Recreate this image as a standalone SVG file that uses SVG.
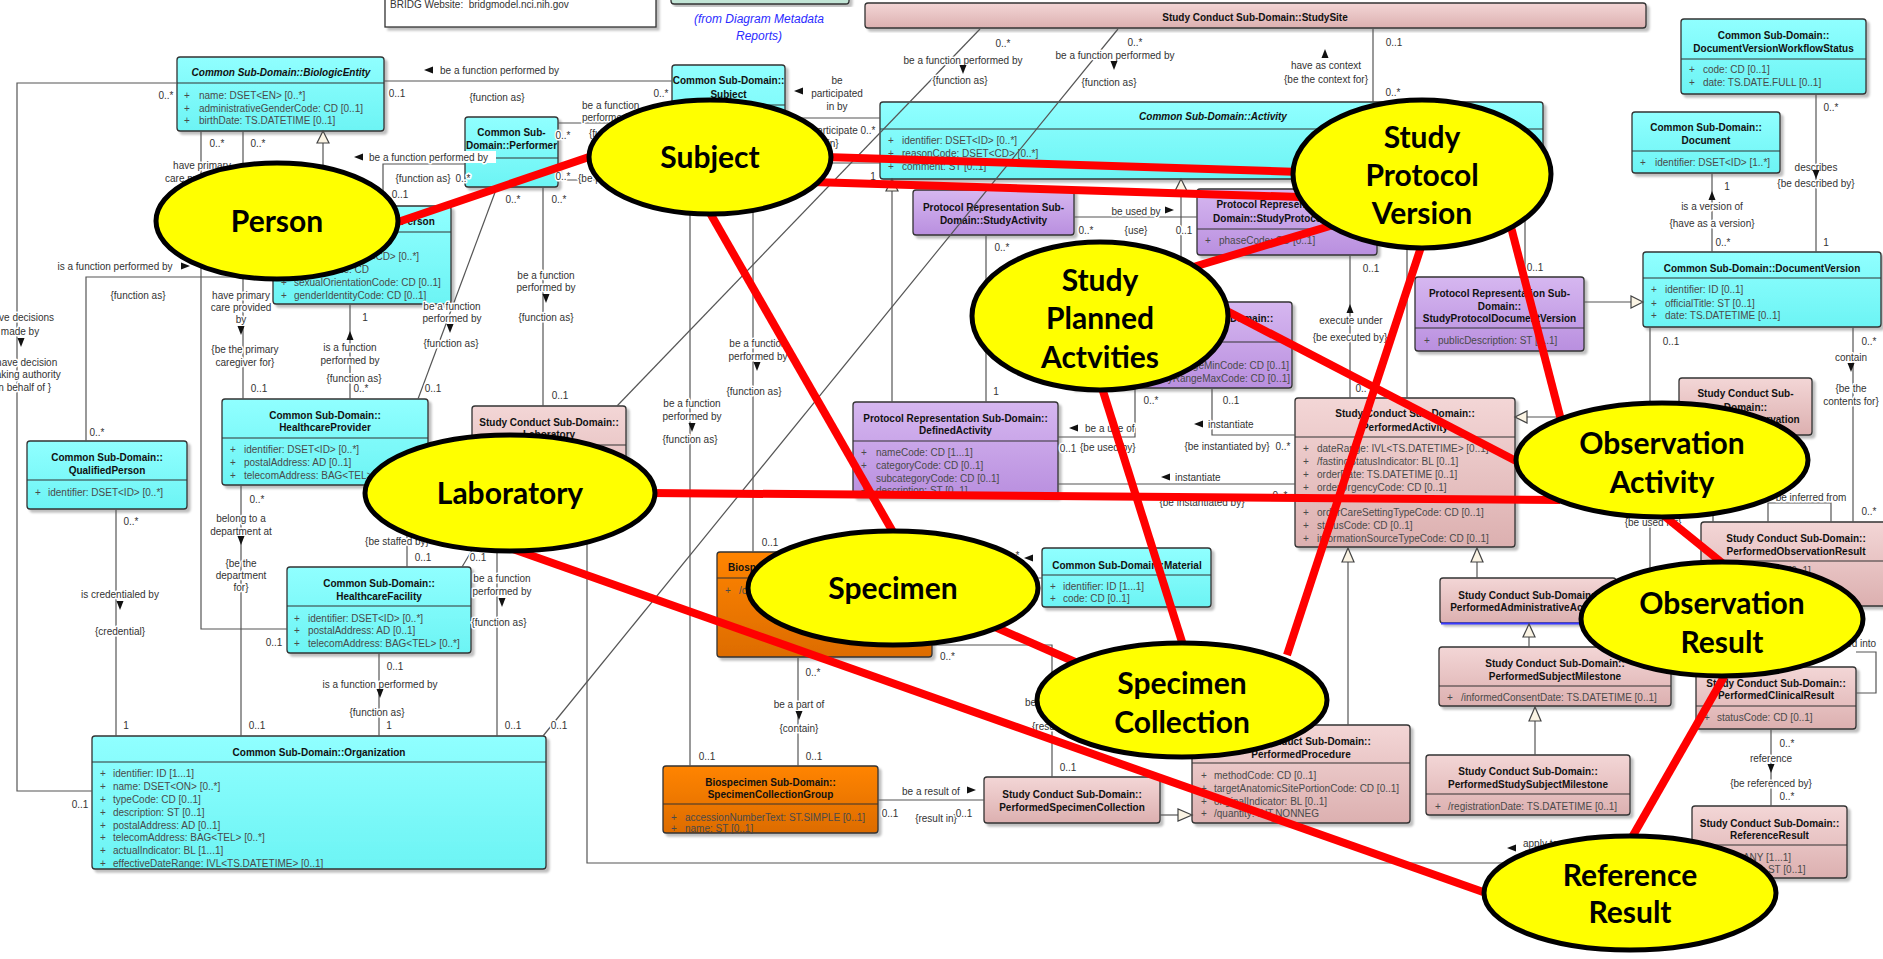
<svg xmlns="http://www.w3.org/2000/svg" width="1883" height="959" viewBox="0 0 1883 959">
<defs>
<linearGradient id="gc" x1="0" y1="0" x2="0" y2="1"><stop offset="0" stop-color="#90ffff"/><stop offset="1" stop-color="#6cf4f4"/></linearGradient>
<linearGradient id="gp" x1="0" y1="0" x2="0" y2="1"><stop offset="0" stop-color="#d6b7f0"/><stop offset="1" stop-color="#b98fdf"/></linearGradient>
<linearGradient id="gk" x1="0" y1="0" x2="0" y2="1"><stop offset="0" stop-color="#f3d6d6"/><stop offset="1" stop-color="#dcb0b0"/></linearGradient>
<linearGradient id="go" x1="0" y1="0" x2="0" y2="1"><stop offset="0" stop-color="#ff8400"/><stop offset="1" stop-color="#dd6c00"/></linearGradient>
<filter id="sh" x="-5%" y="-10%" width="115%" height="130%"><feDropShadow dx="3" dy="3" stdDeviation="1.2" flood-color="#000" flood-opacity="0.25"/></filter>
<path id="aD" d="M-3.5,-5 L3.5,-5 L0,4 Z"/>
<path id="aU" d="M-3.5,5 L3.5,5 L0,-4 Z"/>
<path id="aL" d="M5,-3.5 L5,3.5 L-4,0 Z"/>
<path id="aR" d="M-5,-3.5 L-5,3.5 L4,0 Z"/>
</defs>
<style>
.bx{stroke:#333;stroke-width:1.3;filter:url(#sh)}
.c{fill:url(#gc)}.p{fill:url(#gp)}.k{fill:url(#gk)}.o{fill:url(#go)}
.hd{stroke:#333;stroke-width:1.2}
text{font-family:"Liberation Sans",Arial,sans-serif;font-size:10px}
.t{font-weight:bold;text-anchor:middle;fill:#111}
.ti{font-weight:bold;font-style:italic;text-anchor:middle;fill:#111}
.a{fill:#4a4a4a}
.ln{fill:none;stroke:#555;stroke-width:1.2}
.l{fill:#333;text-anchor:middle;paint-order:stroke;stroke:#fff;stroke-width:3px;stroke-linejoin:round}
.ls{fill:#333;paint-order:stroke;stroke:#fff;stroke-width:3px;stroke-linejoin:round}
.ar{fill:#111}
.gen{fill:#fbf4e4;stroke:#444;stroke-width:1.2}
.red{stroke:#ff0000;stroke-width:8;fill:none}
.el{fill:#ffff00;stroke:#000;stroke-width:5}
.et{font-family:Lato,"Open Sans",sans-serif;font-weight:bold;font-size:30px;text-anchor:middle;fill:#000}
.meta{font-size:12px;font-style:italic;fill:#2b2bff;text-anchor:middle}
</style>
<rect width="1883" height="959" fill="#fff"/>

<g id="nodes">
<g id="n-bridg-website"><rect x="385" y="-10" width="271" height="37" fill="#fff" stroke="#333" stroke-width="1.3" filter="url(#sh)"/><text x="390" y="8" fill="#333">BRIDG Website:&#160; bridgmodel.nci.nih.gov</text></g>
<g id="n-metadata"><rect x="671" y="-10" width="178" height="14" rx="3" fill="#c2e5d6" stroke="#333" stroke-width="1.3" filter="url(#sh)"/><text class="meta" x="759" y="23">(from Diagram Metadata</text><text class="meta" x="759" y="40">Reports)</text></g>

<g id="n-biologic-entity"><rect class="bx c" x="177" y="57" width="207" height="74" rx="3"/><line class="hd" x1="177" y1="83" x2="384" y2="83"/>
<text class="ti" x="281" y="75.5">Common Sub-Domain::BiologicEntity</text>
<text class="a" y="98.5"><tspan x="184">+</tspan><tspan x="199">name: DSET&lt;EN&gt; [0..*]</tspan></text>
<text class="a" y="111.5"><tspan x="184">+</tspan><tspan x="199">administrativeGenderCode: CD [0..1]</tspan></text>
<text class="a" y="123.5"><tspan x="184">+</tspan><tspan x="199">birthDate: TS.DATETIME [0..1]</tspan></text></g>

<g id="n-person"><rect class="bx c" x="273" y="206" width="178" height="98" rx="3"/><line class="hd" x1="273" y1="232" x2="451" y2="232"/>
<text class="t" x="362" y="225">Common Sub-Domain::Person</text>
<text class="a" y="259.5"><tspan x="281">+</tspan><tspan x="294">raceCode: DSET&lt;CD&gt; [0..*]</tspan></text>
<text class="a" y="272.5"><tspan x="281">+</tspan><tspan x="294">genderCode: CD</tspan></text>
<text class="a" y="285.5"><tspan x="281">+</tspan><tspan x="294">sexualOrientationCode: CD [0..1]</tspan></text>
<text class="a" y="298.5"><tspan x="281">+</tspan><tspan x="294">genderIdentityCode: CD [0..1]</tspan></text></g>

<g id="n-performer"><rect class="bx c" x="465" y="117" width="93" height="70" rx="3"/><line class="hd" x1="465" y1="158" x2="558" y2="158"/>
<text class="t" x="511.5" y="135.5">Common Sub-</text><text class="t" x="511.5" y="148.5">Domain::Performer</text></g>

<g id="n-subject"><rect class="bx c" x="672" y="65" width="113" height="110" rx="3"/><line class="hd" x1="672" y1="105" x2="785" y2="105"/>
<text class="t" x="728.5" y="83.5">Common Sub-Domain::</text><text class="t" x="728.5" y="97.5">Subject</text></g>

<g id="n-qualified-person"><rect class="bx c" x="27" y="441" width="160" height="68" rx="3"/><line class="hd" x1="27" y1="480" x2="187" y2="480"/>
<text class="t" x="107" y="460.5">Common Sub-Domain::</text><text class="t" x="107" y="473.5">QualifiedPerson</text>
<text class="a" y="495.5"><tspan x="35">+</tspan><tspan x="48">identifier: DSET&lt;ID&gt; [0..*]</tspan></text></g>

<g id="n-healthcare-provider"><rect class="bx c" x="222" y="399" width="206" height="86" rx="3"/><line class="hd" x1="222" y1="438" x2="428" y2="438"/>
<text class="t" x="325" y="418.5">Common Sub-Domain::</text><text class="t" x="325" y="430.5">HealthcareProvider</text>
<text class="a" y="452.5"><tspan x="230">+</tspan><tspan x="244">identifier: DSET&lt;ID&gt; [0..*]</tspan></text>
<text class="a" y="465.5"><tspan x="230">+</tspan><tspan x="244">postalAddress: AD [0..1]</tspan></text>
<text class="a" y="478.5"><tspan x="230">+</tspan><tspan x="244">telecomAddress: BAG&lt;TEL&gt; [0..*]</tspan></text></g>

<g id="n-healthcare-facility"><rect class="bx c" x="287" y="567" width="184" height="86" rx="3"/><line class="hd" x1="287" y1="606" x2="471" y2="606"/>
<text class="t" x="379" y="586.5">Common Sub-Domain::</text><text class="t" x="379" y="599.5">HealthcareFacility</text>
<text class="a" y="621.5"><tspan x="294">+</tspan><tspan x="308">identifier: DSET&lt;ID&gt; [0..*]</tspan></text>
<text class="a" y="633.5"><tspan x="294">+</tspan><tspan x="308">postalAddress: AD [0..1]</tspan></text>
<text class="a" y="646.5"><tspan x="294">+</tspan><tspan x="308">telecomAddress: BAG&lt;TEL&gt; [0..*]</tspan></text></g>

<g id="n-organization"><rect class="bx c" x="92" y="736" width="454" height="133" rx="3"/><line class="hd" x1="92" y1="762" x2="546" y2="762"/>
<text class="t" x="319" y="755.5">Common Sub-Domain::Organization</text>
<text class="a" y="776.5"><tspan x="100">+</tspan><tspan x="113">identifier: ID [1...1]</tspan></text>
<text class="a" y="789.5"><tspan x="100">+</tspan><tspan x="113">name: DSET&lt;ON&gt; [0..*]</tspan></text>
<text class="a" y="802.5"><tspan x="100">+</tspan><tspan x="113">typeCode: CD [0..1]</tspan></text>
<text class="a" y="815.5"><tspan x="100">+</tspan><tspan x="113">description: ST [0..1]</tspan></text>
<text class="a" y="828.5"><tspan x="100">+</tspan><tspan x="113">postalAddress: AD [0..1]</tspan></text>
<text class="a" y="840.5"><tspan x="100">+</tspan><tspan x="113">telecomAddress: BAG&lt;TEL&gt; [0..*]</tspan></text>
<text class="a" y="853.5"><tspan x="100">+</tspan><tspan x="113">actualIndicator: BL [1...1]</tspan></text>
<text class="a" y="866.5"><tspan x="100">+</tspan><tspan x="113">effectiveDateRange: IVL&lt;TS.DATETIME&gt; [0..1]</tspan></text></g>

<g id="n-laboratory"><rect class="bx k" x="472" y="406" width="154" height="114" rx="3"/><line class="hd" x1="472" y1="445" x2="626" y2="445"/>
<text class="t" x="549" y="425.5">Study Conduct Sub-Domain::</text><text class="t" x="549" y="437.5">Laboratory</text></g>

<g id="n-study-site"><rect class="bx k" x="865" y="3" width="781" height="25" rx="3"/>
<text class="t" x="1255" y="20.5">Study Conduct Sub-Domain::StudySite</text></g>

<g id="n-activity"><rect class="bx c" x="880" y="102" width="663" height="77" rx="3"/><line class="hd" x1="880" y1="129" x2="1543" y2="129"/>
<text class="ti" x="1213" y="119.5">Common Sub-Domain::Activity</text>
<text class="a" y="143.5"><tspan x="888">+</tspan><tspan x="902">identifier: DSET&lt;ID&gt; [0..*]</tspan></text>
<text class="a" y="156.5"><tspan x="888">+</tspan><tspan x="902">reasonCode: DSET&lt;CD&gt; [0..*]</tspan></text>
<text class="a" y="169.5"><tspan x="888">+</tspan><tspan x="902">comment: ST [0..1]</tspan></text></g>

<g id="n-study-activity"><rect class="bx p" x="913" y="190" width="161" height="45" rx="3"/>
<text class="t" x="993.5" y="210.5">Protocol Representation Sub-</text><text class="t" x="993.5" y="223.5">Domain::StudyActivity</text></g>

<g id="n-study-protocol-version"><rect class="bx p" x="1197" y="189" width="180" height="66" rx="3"/><line class="hd" x1="1197" y1="229" x2="1377" y2="229"/>
<text class="t" x="1287" y="207.5">Protocol Representation Sub-</text><text class="t" x="1287" y="221.5">Domain::StudyProtocolVersion</text>
<text class="a" y="243.5"><tspan x="1205">+</tspan><tspan x="1219">phaseCode: CD [0..1]</tspan></text></g>

<g id="n-planned-activity"><rect class="bx p" x="1070" y="302" width="222" height="86" rx="3"/><line class="hd" x1="1070" y1="342" x2="1292" y2="342"/>
<text class="t" x="1181" y="321.5">Protocol Representation Sub-Domain::</text><text class="t" x="1181" y="334.5">PlannedActivity</text>
<text class="a" x="1289" y="368.5" text-anchor="end">studyDayRangeMinCode: CD [0..1]</text>
<text class="a" x="1290" y="381.5" text-anchor="end">studyDayRangeMaxCode: CD [0..1]</text></g>

<g id="n-defined-activity"><rect class="bx p" x="853" y="402" width="205" height="95" rx="3"/><line class="hd" x1="853" y1="441" x2="1058" y2="441"/>
<text class="t" x="955.5" y="421.5">Protocol Representation Sub-Domain::</text><text class="t" x="955.5" y="433.5">DefinedActivity</text>
<text class="a" y="455.5"><tspan x="861">+</tspan><tspan x="876">nameCode: CD [1...1]</tspan></text>
<text class="a" y="468.5"><tspan x="861">+</tspan><tspan x="876">categoryCode: CD [0..1]</tspan></text>
<text class="a" y="481.5"><tspan x="861">+</tspan><tspan x="876">subcategoryCode: CD [0..1]</tspan></text>
<text class="a" y="493.5"><tspan x="861">+</tspan><tspan x="876">description: ST [0..1]</tspan></text></g>

<g id="n-performed-activity"><rect class="bx k" x="1295" y="398" width="220" height="149" rx="3"/><line class="hd" x1="1295" y1="437" x2="1515" y2="437"/>
<text class="t" x="1405" y="416.5">Study Conduct Sub-Domain::</text><text class="t" x="1405" y="430.5">PerformedActivity</text>
<text class="a" y="451.5"><tspan x="1303">+</tspan><tspan x="1317">dateRange: IVL&lt;TS.DATETIME&gt; [0..1]</tspan></text>
<text class="a" y="464.5"><tspan x="1303">+</tspan><tspan x="1317">/fastingStatusIndicator: BL [0..1]</tspan></text>
<text class="a" y="477.5"><tspan x="1303">+</tspan><tspan x="1317">orderDate: TS.DATETIME [0..1]</tspan></text>
<text class="a" y="490.5"><tspan x="1303">+</tspan><tspan x="1317">orderUrgencyCode: CD [0..1]</tspan></text>
<text class="a" y="515.5"><tspan x="1303">+</tspan><tspan x="1317">orderCareSettingTypeCode: CD [0..1]</tspan></text>
<text class="a" y="528.5"><tspan x="1303">+</tspan><tspan x="1317">statusCode: CD [0..1]</tspan></text>
<text class="a" y="541.5"><tspan x="1303">+</tspan><tspan x="1317">informationSourceTypeCode: CD [0..1]</tspan></text></g>

<g id="n-material"><rect class="bx c" x="1042" y="548" width="169" height="59" rx="3"/><line class="hd" x1="1042" y1="575" x2="1211" y2="575"/>
<text class="t" x="1127" y="568.5">Common Sub-Domain::Material</text>
<text class="a" y="589.5"><tspan x="1050">+</tspan><tspan x="1063">identifier: ID [1...1]</tspan></text>
<text class="a" y="601.5"><tspan x="1050">+</tspan><tspan x="1063">code: CD [0..1]</tspan></text></g>

<g id="n-biospecimen"><rect class="bx o" x="717" y="552" width="215" height="105" rx="3"/><line class="hd" x1="717" y1="578" x2="932" y2="578"/>
<text class="t" x="824.5" y="570.5">Biospecimen Sub-Domain::Biospecimen</text>
<text class="a" y="593.5" fill="#5a3000"><tspan x="725">+</tspan><tspan x="739">/currentQuantity: PQ [0..1]</tspan></text></g>

<g id="n-specimen-collection-group"><rect class="bx o" x="663" y="766" width="215" height="67" rx="3"/><line class="hd" x1="663" y1="804" x2="878" y2="804"/>
<text class="t" x="770.5" y="785.5">Biospecimen Sub-Domain::</text><text class="t" x="770.5" y="797.5">SpecimenCollectionGroup</text>
<text class="a" y="820.5"><tspan x="671">+</tspan><tspan x="685">accessionNumberText: ST.SIMPLE [0..1]</tspan></text>
<text class="a" y="832"><tspan x="671">+</tspan><tspan x="685">name: ST [0..1]</tspan></text></g>

<g id="n-performed-specimen-collection"><rect class="bx k" x="984" y="777" width="176" height="46" rx="3"/>
<text class="t" x="1072" y="797.5">Study Conduct Sub-Domain::</text><text class="t" x="1072" y="810.5">PerformedSpecimenCollection</text></g>

<g id="n-performed-procedure"><rect class="bx k" x="1192" y="725" width="218" height="98" rx="3"/><line class="hd" x1="1192" y1="763" x2="1410" y2="763"/>
<text class="t" x="1301" y="744.5">Study Conduct Sub-Domain::</text><text class="t" x="1301" y="757.5">PerformedProcedure</text>
<text class="a" y="778.5"><tspan x="1201">+</tspan><tspan x="1214">methodCode: CD [0..1]</tspan></text>
<text class="a" y="791.5"><tspan x="1201">+</tspan><tspan x="1214">targetAnatomicSitePortionCode: CD [0..1]</tspan></text>
<text class="a" y="804.5"><tspan x="1201">+</tspan><tspan x="1214">originalIndicator: BL [0..1]</tspan></text>
<text class="a" y="816.5"><tspan x="1201">+</tspan><tspan x="1214">/quantity: INT.NONNEG</tspan></text></g>

<g id="n-dv-workflow-status"><rect class="bx c" x="1681" y="19" width="185" height="75" rx="3"/><line class="hd" x1="1681" y1="59" x2="1866" y2="59"/>
<text class="t" x="1773.5" y="38.5">Common Sub-Domain::</text><text class="t" x="1773.5" y="51.5">DocumentVersionWorkflowStatus</text>
<text class="a" y="72.5"><tspan x="1689">+</tspan><tspan x="1703">code: CD [0..1]</tspan></text>
<text class="a" y="85.5"><tspan x="1689">+</tspan><tspan x="1703">date: TS.DATE.FULL [0..1]</tspan></text></g>

<g id="n-document"><rect class="bx c" x="1632" y="112" width="148" height="61" rx="3"/><line class="hd" x1="1632" y1="151" x2="1780" y2="151"/>
<text class="t" x="1706" y="130.5">Common Sub-Domain::</text><text class="t" x="1706" y="143.5">Document</text>
<text class="a" y="165.5"><tspan x="1640">+</tspan><tspan x="1655">identifier: DSET&lt;ID&gt; [1..*]</tspan></text></g>

<g id="n-document-version"><rect class="bx c" x="1643" y="252" width="238" height="75" rx="3"/><line class="hd" x1="1643" y1="278" x2="1881" y2="278"/>
<text class="t" x="1762" y="271.5">Common Sub-Domain::DocumentVersion</text>
<text class="a" y="292.5"><tspan x="1651">+</tspan><tspan x="1665">identifier: ID [0..1]</tspan></text>
<text class="a" y="306.5"><tspan x="1651">+</tspan><tspan x="1665">officialTitle: ST [0..1]</tspan></text>
<text class="a" y="318.5"><tspan x="1651">+</tspan><tspan x="1665">date: TS.DATETIME [0..1]</tspan></text></g>

<g id="n-study-protocol-document-version"><rect class="bx p" x="1415" y="277" width="169" height="74" rx="3"/><line class="hd" x1="1415" y1="328" x2="1584" y2="328"/>
<text class="t" x="1499.5" y="296.5">Protocol Representation Sub-</text><text class="t" x="1499.5" y="309.5">Domain::</text><text class="t" x="1499.5" y="321.5">StudyProtocolDocumentVersion</text>
<text class="a" y="343.5"><tspan x="1424">+</tspan><tspan x="1438">publicDescription: ST [0..1]</tspan></text></g>

<g id="n-performed-observation"><rect class="bx k" x="1679" y="378" width="133" height="57" rx="3"/>
<text class="t" x="1745.5" y="396.5">Study Conduct Sub-</text><text class="t" x="1745.5" y="410.5">Domain::</text><text class="t" x="1745.5" y="422.5">PerformedObservation</text></g>

<g id="n-performed-observation-result"><rect class="bx k" x="1701" y="522" width="190" height="84" rx="3"/><line class="hd" x1="1701" y1="561" x2="1891" y2="561"/>
<text class="t" x="1796" y="541.5">Study Conduct Sub-Domain::</text><text class="t" x="1796" y="554.5">PerformedObservationResult</text>
<text class="a" y="573.5"><tspan x="1709">+</tspan><tspan x="1723">typeCode: CD [0..1]</tspan></text>
<text class="a" y="586.5"><tspan x="1709">+</tspan><tspan x="1723">value: ANY [0..1]</tspan></text></g>

<g id="n-performed-administrative-activity"><rect class="bx k" x="1440" y="578" width="176" height="45" rx="3"/><line x1="1441" y1="623.5" x2="1615" y2="623.5" stroke="#3a3aff" stroke-width="2"/>
<text class="t" x="1528" y="598.5">Study Conduct Sub-Domain::</text><text class="t" x="1528" y="610.5">PerformedAdministrativeActivity</text></g>

<g id="n-performed-subject-milestone"><rect class="bx k" x="1439" y="647" width="232" height="59" rx="3"/><line class="hd" x1="1439" y1="686" x2="1671" y2="686"/>
<text class="t" x="1555" y="666.5">Study Conduct Sub-Domain::</text><text class="t" x="1555" y="679.5">PerformedSubjectMilestone</text>
<text class="a" y="700.5"><tspan x="1447">+</tspan><tspan x="1461">/informedConsentDate: TS.DATETIME [0..1]</tspan></text></g>

<g id="n-performed-study-subject-milestone"><rect class="bx k" x="1426" y="755" width="204" height="60" rx="3"/><line class="hd" x1="1426" y1="794" x2="1630" y2="794"/>
<text class="t" x="1528" y="774.5">Study Conduct Sub-Domain::</text><text class="t" x="1528" y="787.5">PerformedStudySubjectMilestone</text>
<text class="a" y="809.5"><tspan x="1435">+</tspan><tspan x="1448">/registrationDate: TS.DATETIME [0..1]</tspan></text></g>

<g id="n-performed-clinical-result"><rect class="bx k" x="1696" y="667" width="160" height="62" rx="3"/><line class="hd" x1="1696" y1="706" x2="1856" y2="706"/>
<text class="t" x="1776" y="686.5">Study Conduct Sub-Domain::</text><text class="t" x="1776" y="698.5">PerformedClinicalResult</text>
<text class="a" y="720.5"><tspan x="1704">+</tspan><tspan x="1717">statusCode: CD [0..1]</tspan></text></g>

<g id="n-reference-result"><rect class="bx k" x="1692" y="806" width="155" height="72" rx="3"/><line class="hd" x1="1692" y1="845" x2="1847" y2="845"/>
<text class="t" x="1769.5" y="826.5">Study Conduct Sub-Domain::</text><text class="t" x="1769.5" y="838.5">ReferenceResult</text>
<text class="a" y="860.5"><tspan x="1700">+</tspan><tspan x="1714">value: ANY [1...1]</tspan></text>
<text class="a" y="872.5"><tspan x="1700">+</tspan><tspan x="1714">description: ST [0..1]</tspan></text></g>
</g>

<g id="connectors">
<path class="ln" d="M177,83 H17 V791 H92"/>
<path class="ln" d="M384,81 H672"/>
<path class="ln" d="M201,131 V629 H287"/>
<path class="ln" d="M243,131 V399"/>
<path class="ln" d="M323,206 V143"/>
<polygon class="gen" points="323,131 317,143 329,143"/>
<path class="ln" d="M273,277 H86 V441"/>
<path class="ln" d="M383,206 V164 H465"/>
<path class="ln" d="M350,304 V399"/>
<path class="ln" d="M497,187 L418,399"/>
<path class="ln" d="M543,187 V406"/>
<path class="ln" d="M558,123 H672"/>
<path class="ln" d="M558,180 H672"/>
<path class="ln" d="M785,118 H880"/>
<path class="ln" d="M785,163 H880"/>
<path class="ln" d="M690,175 V766"/>
<path class="ln" d="M753,175 V552"/>
<path class="ln" d="M980,29 L617,406" stroke-width="1"/>
<path class="ln" d="M1118,29 L543,736" stroke-width="1"/>
<path class="ln" d="M1373,28 V102"/>
<path class="ln" d="M1074,217 H1197"/>
<path class="ln" d="M1181,191 V302"/>
<polygon class="gen" points="1181,179 1175,191 1187,191"/>
<path class="ln" d="M892,191 V402"/>
<polygon class="gen" points="892,179 886,191 898,191"/>
<path class="ln" d="M986,235 V402"/>
<path class="ln" d="M1058,437 H1135 V388"/>
<path class="ln" d="M1212,388 V435 H1295"/>
<path class="ln" d="M1058,484 H1295"/>
<path class="ln" d="M1350,255 V398"/>
<path class="ln" d="M1407,179 V398"/>
<path class="ln" d="M1525,179 V277"/>
<path class="ln" d="M1584,302 H1631"/>
<polygon class="gen" points="1643,302 1631,296 1631,308"/>
<path class="ln" d="M1712,173 V252"/>
<path class="ln" d="M1816,94 V252"/>
<path class="ln" d="M1650,327 V570 H1701"/>
<path class="ln" d="M1853,327 V522"/>
<path class="ln" d="M1713,435 V522"/>
<path class="ln" d="M1768,522 V503 H1831 V522"/>
<path class="ln" d="M1679,417 H1527"/>
<polygon class="gen" points="1515,417 1527,411 1527,423"/>
<path class="ln" d="M1477,578 V562"/>
<polygon class="gen" points="1477,548 1471,562 1483,562"/>
<path class="ln" d="M1529,647 V637"/>
<polygon class="gen" points="1529,624 1523,637 1535,637"/>
<path class="ln" d="M1535,755 V721"/>
<polygon class="gen" points="1535,707 1529,721 1541,721"/>
<path class="ln" d="M1348,725 V562"/>
<polygon class="gen" points="1348,548 1342,562 1354,562"/>
<path class="ln" d="M1160,815 H1178"/>
<polygon class="gen" points="1192,815 1178,809 1178,821"/>
<path class="ln" d="M878,800 H984"/>
<path class="ln" d="M798,657 V766"/>
<path class="ln" d="M932,645 H1052 V777"/>
<path class="ln" d="M932,578 H1042"/>
<path class="ln" d="M587,520 V863 H1692"/>
<path class="ln" d="M379,653 V736"/>
<path class="ln" d="M241,485 V736"/>
<path class="ln" d="M407,485 V567"/>
<path class="ln" d="M462,567 L490,520"/>
<path class="ln" d="M497,520 V736"/>
<path class="ln" d="M116,509 V736"/>
<path class="ln" d="M1771,729 V806"/>
<path class="ln" d="M1856,652 H1876 V693 H1856"/>

<text class="l" x="21" y="321">have decisions</text>
<text class="l" x="20" y="335">made by</text>
<use class="ar" href="#aD" x="21" y="343"/>
<text class="l" x="25" y="366">{have decision</text>
<text class="l" x="24" y="378">making authority</text>
<text class="l" x="22" y="391">on behalf of }</text>
<text class="l" x="166" y="98.5">0..*</text>
<text class="l" x="80" y="807.5">0..1</text>

<use class="ar" href="#aL" x="428" y="70"/>
<text class="ls" x="440" y="73.5">be a function performed by</text>
<text class="l" x="397" y="96.5">0..1</text>
<text class="l" x="497" y="100.5">{function as}</text>
<text class="l" x="661" y="96.5">0..*</text>

<text class="l" x="217" y="146.5">0..*</text>
<text class="l" x="202" y="168.5">have primary</text>
<text class="l" x="202" y="181.5">care provided by</text>
<text class="l" x="274" y="645.5">0..1</text>

<text class="l" x="258" y="146.5">0..*</text>
<text class="l" x="241" y="298.5">have primary</text>
<text class="l" x="241" y="310.5">care provided</text>
<text class="l" x="241" y="322.5">by</text>
<use class="ar" href="#aD" x="241" y="331"/>
<text class="l" x="245" y="352.5">{be the primary</text>
<text class="l" x="245" y="365.5">caregiver for}</text>
<text class="l" x="259" y="391.5">0..1</text>

<text class="l" x="115" y="269.5">is a function performed by</text>
<use class="ar" href="#aR" x="186" y="266"/>
<text class="l" x="138" y="298.5">{function as}</text>
<text class="l" x="97" y="435.5">0..*</text>

<use class="ar" href="#aL" x="358" y="157"/>
<rect x="366" y="151" width="130" height="12" fill="#fff"/>
<text class="ls" x="369" y="160.5">be a function performed by</text>
<text class="l" x="423" y="181.5">{function as}</text>
<text class="l" x="463" y="181.5">0..*</text>
<text class="l" x="400" y="197.5">0..1</text>

<text class="l" x="365" y="320.5">1</text>
<use class="ar" href="#aU" x="350" y="335"/>
<text class="l" x="350" y="350.5">is a function</text>
<text class="l" x="350" y="363.5">performed by</text>
<text class="l" x="354" y="381.5">{function as}</text>
<text class="l" x="361" y="391.5">0..*</text>

<text class="l" x="513" y="202.5">0..*</text>
<text class="l" x="452" y="309.5">be a function</text>
<text class="l" x="452" y="321.5">performed by</text>
<use class="ar" href="#aD" x="450" y="329"/>
<text class="l" x="451" y="346.5">{function as}</text>
<text class="l" x="433" y="391.5">0..1</text>

<text class="l" x="559" y="202.5">0..*</text>
<text class="l" x="546" y="278.5">be a function</text>
<text class="l" x="546" y="290.5">performed by</text>
<use class="ar" href="#aD" x="546" y="299"/>
<text class="l" x="546" y="320.5">{function as}</text>
<text class="l" x="560" y="398.5">0..1</text>

<text class="ls" x="582" y="108.5">be a function</text>
<text class="ls" x="582" y="120.5">performed by</text>
<text class="l" x="563" y="138.5">0..*</text>
<text class="ls" x="589" y="136.5">{function as}</text>
<text class="l" x="563" y="179.5">0..*</text>
<text class="ls" x="578" y="181.5">{be performed by}</text>

<use class="ar" href="#aL" x="798" y="91"/>
<text class="l" x="837" y="83.5">be</text>
<text class="l" x="837" y="96.5">participated</text>
<text class="l" x="837" y="109.5">in by</text>
<text class="l" x="833" y="133.5">{participate</text>
<text class="l" x="868" y="133.5">0..*</text>
<text class="l" x="833" y="146.5">in}</text>
<text class="l" x="873" y="179.5">1</text>

<text class="l" x="692" y="406.5">be a function</text>
<text class="l" x="692" y="419.5">performed by</text>
<use class="ar" href="#aD" x="692" y="428"/>
<text class="l" x="690" y="442.5">{function as}</text>
<text class="l" x="707" y="759.5">0..1</text>

<text class="l" x="758" y="346.5">be a function</text>
<text class="l" x="758" y="359.5">performed by</text>
<use class="ar" href="#aD" x="757" y="367"/>
<text class="l" x="754" y="394.5">{function as}</text>
<text class="l" x="770" y="545.5">0..1</text>

<text class="l" x="1003" y="46.5">0..*</text>
<text class="l" x="963" y="63.5">be a function performed by</text>
<use class="ar" href="#aD" x="963" y="70"/>
<text class="l" x="960" y="83.5">{function as}</text>

<text class="l" x="1135" y="45.5">0..*</text>
<text class="l" x="1115" y="58.5">be a function performed by</text>
<use class="ar" href="#aD" x="1114" y="66"/>
<text class="l" x="1109" y="85.5">{function as}</text>
<text class="l" x="559" y="728.5">0..1</text>

<text class="l" x="1394" y="45.5">0..1</text>
<use class="ar" href="#aU" x="1325" y="53"/>
<text class="l" x="1326" y="68.5">have as context</text>
<text class="l" x="1326" y="82.5">{be the context for}</text>
<text class="l" x="1393" y="95.5">0..*</text>

<text class="l" x="1136" y="214.5">be used by</text>
<use class="ar" href="#aR" x="1170" y="210"/>
<text class="l" x="1086" y="233.5">0..*</text>
<text class="l" x="1136" y="233.5">{use}</text>
<text class="l" x="1184" y="233.5">0..1</text>

<text class="l" x="1002" y="250.5">0..*</text>
<text class="l" x="996" y="394.5">1</text>

<use class="ar" href="#aL" x="1073" y="428"/>
<text class="ls" x="1085" y="431.5">be a use of</text>
<text class="l" x="1068" y="451.5">0..1</text>
<text class="ls" x="1080" y="450.5">{be used by}</text>
<text class="l" x="1151" y="403.5">0..*</text>

<text class="l" x="1231" y="403.5">0..1</text>
<use class="ar" href="#aL" x="1198" y="424"/>
<text class="ls" x="1208" y="427.5">instantiate</text>
<text class="l" x="1227" y="449.5">{be instantiated by}</text>
<text class="l" x="1283" y="449.5">0..*</text>

<use class="ar" href="#aL" x="1165" y="477"/>
<text class="ls" x="1175" y="480.5">instantiate</text>
<text class="l" x="1202" y="505.5">{be instantiated by}</text>
<text class="l" x="1280" y="498.5">0..*</text>

<text class="l" x="1371" y="271.5">0..1</text>
<use class="ar" href="#aU" x="1350" y="308"/>
<text class="l" x="1351" y="323.5">execute under</text>
<text class="l" x="1350" y="340.5">{be executed by}</text>
<text class="l" x="1363" y="391.5">0..*</text>
<text class="l" x="1535" y="270.5">0..1</text>

<text class="l" x="1727" y="189.5">1</text>
<use class="ar" href="#aU" x="1712" y="195"/>
<text class="l" x="1712" y="209.5">is a version of</text>
<text class="l" x="1712" y="226.5">{have as a version}</text>
<text class="l" x="1723" y="245.5">0..*</text>

<text class="l" x="1831" y="110.5">0..*</text>
<text class="l" x="1816" y="170.5">describes</text>
<use class="ar" href="#aD" x="1816" y="175"/>
<text class="l" x="1816" y="186.5">{be described by}</text>
<text class="l" x="1826" y="245.5">1</text>

<text class="l" x="1671" y="344.5">0..1</text>
<text class="l" x="1653" y="525.5">{be used for}</text>
<text class="l" x="1869" y="344.5">0..*</text>
<text class="l" x="1851" y="360.5">contain</text>
<use class="ar" href="#aD" x="1851" y="368"/>
<text class="l" x="1851" y="391.5">{be the</text>
<text class="l" x="1851" y="404.5">contents for}</text>
<text class="l" x="1869" y="514.5">0..*</text>
<text class="l" x="1811" y="500.5">be inferred from</text>

<text class="ls" x="902" y="795">be a result of</text>
<use class="ar" href="#aR" x="972" y="790"/>
<text class="l" x="890" y="816.5">0..1</text>
<text class="l" x="936" y="821.5">{result in}</text>
<text class="l" x="964" y="816.5">0..1</text>

<text class="l" x="813" y="675.5">0..*</text>
<text class="l" x="799" y="707.5">be a part of</text>
<use class="ar" href="#aD" x="799" y="716"/>
<text class="l" x="799" y="731.5">{contain}</text>
<text class="l" x="814" y="759.5">0..1</text>

<text class="ls" x="940" y="659.5">0..*</text>
<text class="ls" x="1025" y="705.5">be a result of</text>
<text class="ls" x="1032" y="729.5">{result in}</text>
<text class="l" x="1068" y="770.5">0..1</text>
<text class="l" x="1012" y="558.5">0..*</text>
<use class="ar" href="#aL" x="1028" y="558"/>

<use class="ar" href="#aL" x="1511" y="848"/>
<text class="ls" x="1523" y="846.5">apply to</text>

<text class="l" x="395" y="669.5">0..1</text>
<text class="l" x="380" y="687.5">is a function performed by</text>
<use class="ar" href="#aD" x="380" y="694"/>
<text class="l" x="377" y="715.5">{function as}</text>
<text class="l" x="389" y="728.5">1</text>

<text class="l" x="257" y="502.5">0..*</text>
<text class="l" x="241" y="521.5">belong to a</text>
<text class="l" x="241" y="534.5">department at</text>
<use class="ar" href="#aD" x="241" y="541"/>
<text class="l" x="241" y="566.5">{be the</text>
<text class="l" x="241" y="578.5">department</text>
<text class="l" x="241" y="590.5">for}</text>
<text class="l" x="257" y="728.5">0..1</text>

<text class="l" x="397" y="544.5">{be staffed by}</text>
<text class="l" x="423" y="560.5">0..1</text>
<text class="l" x="478" y="560.5">0..1</text>

<text class="l" x="502" y="581.5">be a function</text>
<text class="l" x="502" y="594.5">performed by</text>
<use class="ar" href="#aD" x="502" y="603"/>
<text class="l" x="499" y="625.5">{function as}</text>
<text class="l" x="513" y="728.5">0..1</text>

<text class="l" x="131" y="524.5">0..*</text>
<text class="l" x="120" y="597.5">is credentialed by</text>
<use class="ar" href="#aD" x="120" y="606"/>
<text class="l" x="120" y="634.5">{credential}</text>
<text class="l" x="126" y="728.5">1</text>

<text class="l" x="1787" y="746.5">0..*</text>
<text class="l" x="1771" y="761.5">reference</text>
<use class="ar" href="#aD" x="1771" y="769"/>
<text class="l" x="1771" y="786.5">{be referenced by}</text>
<text class="l" x="1787" y="799.5">0..*</text>
<text class="ls" x="1800" y="646.5">be combined into</text>
</g>

<g id="annotations">
<g id="red-links">
<line class="red" x1="398" y1="222" x2="589" y2="157"/>
<line class="red" x1="825" y1="157" x2="1300" y2="172"/>
<line class="red" x1="812" y1="182" x2="1300" y2="197"/>
<line class="red" x1="710" y1="213" x2="893" y2="532"/>
<line class="red" x1="1340" y1="223" x2="1190" y2="268"/>
<line class="red" x1="1421" y1="247" x2="1287" y2="655"/>
<line class="red" x1="1511" y1="227" x2="1561" y2="420"/>
<line class="red" x1="1225" y1="310" x2="1518" y2="462"/>
<line class="red" x1="1102" y1="388" x2="1183" y2="645"/>
<line class="red" x1="650" y1="493" x2="1560" y2="500"/>
<line class="red" x1="510" y1="548" x2="1486" y2="893"/>
<line class="red" x1="995" y1="627" x2="1082" y2="665"/>
<line class="red" x1="1663" y1="515" x2="1726" y2="566"/>
<line class="red" x1="1725" y1="675" x2="1631" y2="839"/>
</g>
<g id="e-person"><ellipse class="el" cx="277" cy="221" rx="121" ry="58"/><text class="et" x="277" y="232">Person</text></g>
<g id="e-subject"><ellipse class="el" cx="710" cy="157" rx="121" ry="57"/><text class="et" x="710" y="168">Subject</text></g>
<g id="e-study-protocol-version"><ellipse class="el" cx="1422" cy="174" rx="129" ry="74"/><text class="et" x="1422" y="148">Study</text><text class="et" x="1422" y="186">Protocol</text><text class="et" x="1422" y="224">Version</text></g>
<g id="e-study-planned-activities"><ellipse class="el" cx="1100" cy="316" rx="128" ry="74"/><text class="et" x="1100" y="291">Study</text><text class="et" x="1100" y="329">Planned</text><text class="et" x="1100" y="368">Actvities</text></g>
<g id="e-laboratory"><ellipse class="el" cx="510" cy="493" rx="145" ry="58"/><text class="et" x="510" y="504">Laboratory</text></g>
<g id="e-specimen"><ellipse class="el" cx="893" cy="588" rx="145" ry="57"/><text class="et" x="893" y="599">Specimen</text></g>
<g id="e-specimen-collection"><ellipse class="el" cx="1182" cy="700" rx="145" ry="57"/><text class="et" x="1182" y="694">Specimen</text><text class="et" x="1182" y="733">Collection</text></g>
<g id="e-observation-activity"><ellipse class="el" cx="1662" cy="460" rx="146" ry="57"/><text class="et" x="1662" y="454">Observation</text><text class="et" x="1662" y="493">Activity</text></g>
<g id="e-observation-result"><ellipse class="el" cx="1722" cy="619" rx="141" ry="57"/><text class="et" x="1722" y="614">Observation</text><text class="et" x="1722" y="653">Result</text></g>
<g id="e-reference-result"><ellipse class="el" cx="1630" cy="893" rx="146" ry="57"/><text class="et" x="1630" y="886">Reference</text><text class="et" x="1630" y="923">Result</text></g>
</g>
</svg>
